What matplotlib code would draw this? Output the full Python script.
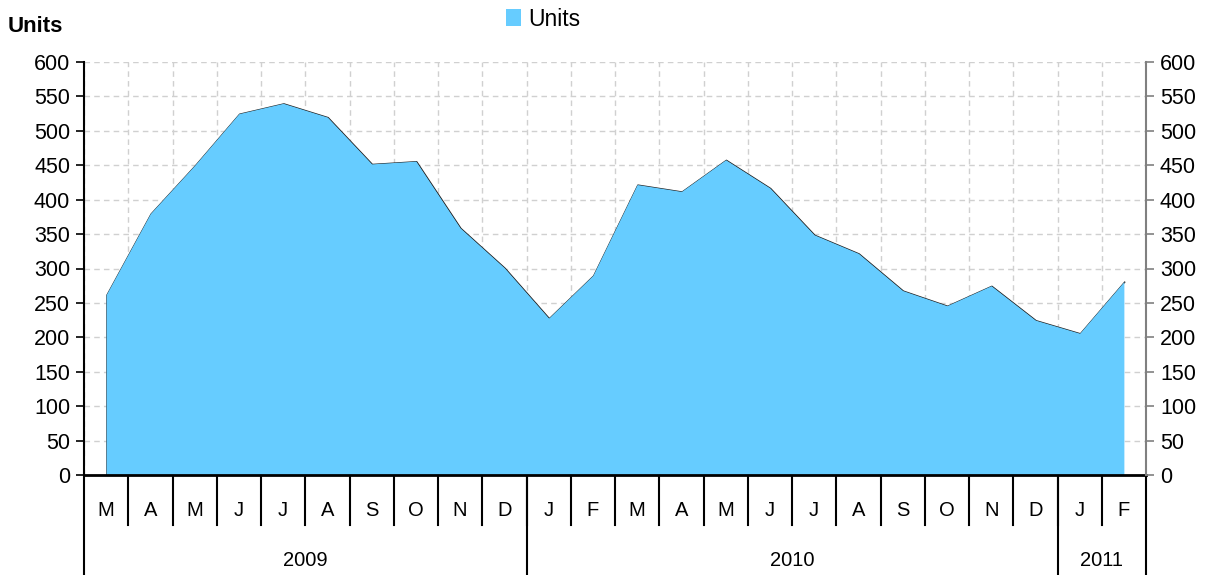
import matplotlib

matplotlib.use('Agg')
import matplotlib.pyplot as plt
import matplotlib.transforms as mtransforms
import numpy as np

plt.rcParams['font.family'] = ['Liberation Sans', 'DejaVu Sans']
plt.rcParams['font.size'] = 14

months = ["M", "A", "M", "J", "J", "A", "S", "O", "N", "D",
          "J", "F", "M", "A", "M", "J", "J", "A", "S", "O", "N", "D",
          "J", "F"]
years = ["2009", "2010", "2011"]
months_per_year = [10, 12, 2]
units = [262, 380, 450, 525, 540, 520, 452, 456, 359, 301,
         228, 290, 422, 412, 458, 417, 349, 322, 268, 246, 275, 225,
         206, 281]

fill_color = "#66CCFF"

fig = plt.figure(figsize=(12.14, 5.75), dpi=100)
ax = fig.add_axes([84 / 1214, 100 / 575, 1062 / 1214, 413 / 575])

x = np.arange(len(units))
# thin dark edge, shifted a pixel so it only shows on falling segments
shift = mtransforms.offset_copy(ax.transData, fig=fig, x=0.8, y=-0.6, units='dots')
ax.plot(np.r_[x[0], x], np.r_[0, units], color="#202020", linewidth=1.0,
        transform=shift, zorder=2)
ax.fill_between(x, 0, units, color=fill_color, linewidth=0, zorder=3, label="Units")

ax.set_xlim(-0.5, len(units) - 0.5)
ax.set_ylim(0, 600)
ax.set_yticks(np.arange(0, 601, 50))
ax.set_xticks(np.arange(-0.5, len(units), 1.0))
ax.set_xticklabels([])
ax.tick_params(axis='x', length=0)
ax.tick_params(axis='y', direction='out', length=6, width=1.2, labelsize=15.5, pad=4)
ax.grid(True, color="#D0D0D0", linestyle=(0, (4, 3)), linewidth=1.0, zorder=0)
ax.set_axisbelow(True)

ax.spines['top'].set_visible(False)
ax.spines['right'].set_visible(False)
ax.spines['left'].set_linewidth(1.5)
ax.spines['bottom'].set_linewidth(2.0)
ax.spines['bottom'].set_zorder(5)

# right axis duplicate
ax2 = ax.twinx()
ax2.set_ylim(0, 600)
ax2.set_yticks(np.arange(0, 601, 50))
ax2.tick_params(axis='y', direction='out', length=6, width=1.2, color="#808080",
                labelsize=15.5, pad=4)
for side in ['top', 'left', 'bottom']:
    ax2.spines[side].set_visible(False)
ax2.spines['right'].set_color("#808080")
ax2.spines['right'].set_linewidth(1.5)

# category axis: month boxes and year groups
trans = mtransforms.blended_transform_factory(ax.transData, ax.transAxes)
month_bottom = -50 / 413
year_bottom = -100 / 413
for i, m in enumerate(months):
    ax.text(i, -36 / 413, m, transform=trans, ha='center', va='center', fontsize=14.5)
for b in np.arange(0.5, len(months) - 1, 1.0):
    ax.plot([b, b], [0, month_bottom], transform=trans, color='black',
            linewidth=1.5, clip_on=False)

bounds = np.r_[0, np.cumsum(months_per_year)] - 0.5
for b in bounds:
    ax.plot([b, b], [0, year_bottom], transform=trans, color='black',
            linewidth=1.5, clip_on=False)
for y_lab, lo, hi in zip(years, bounds[:-1], bounds[1:]):
    ax.text((lo + hi) / 2, -86 / 413, y_lab, transform=trans, ha='center',
            va='center', fontsize=14.5)

fig.text(8 / 1214, 1 - 27 / 575, "Units", fontsize=16, fontweight='bold',
         ha='left', va='center')

ax.legend(loc='center', bbox_to_anchor=(543 / 1214, 1 - 19 / 575),
          bbox_transform=fig.transFigure, frameon=False, fontsize=16.5,
          handlelength=0.65, handleheight=0.75, handletextpad=0.3)

fig.savefig("out.png", dpi=100)
